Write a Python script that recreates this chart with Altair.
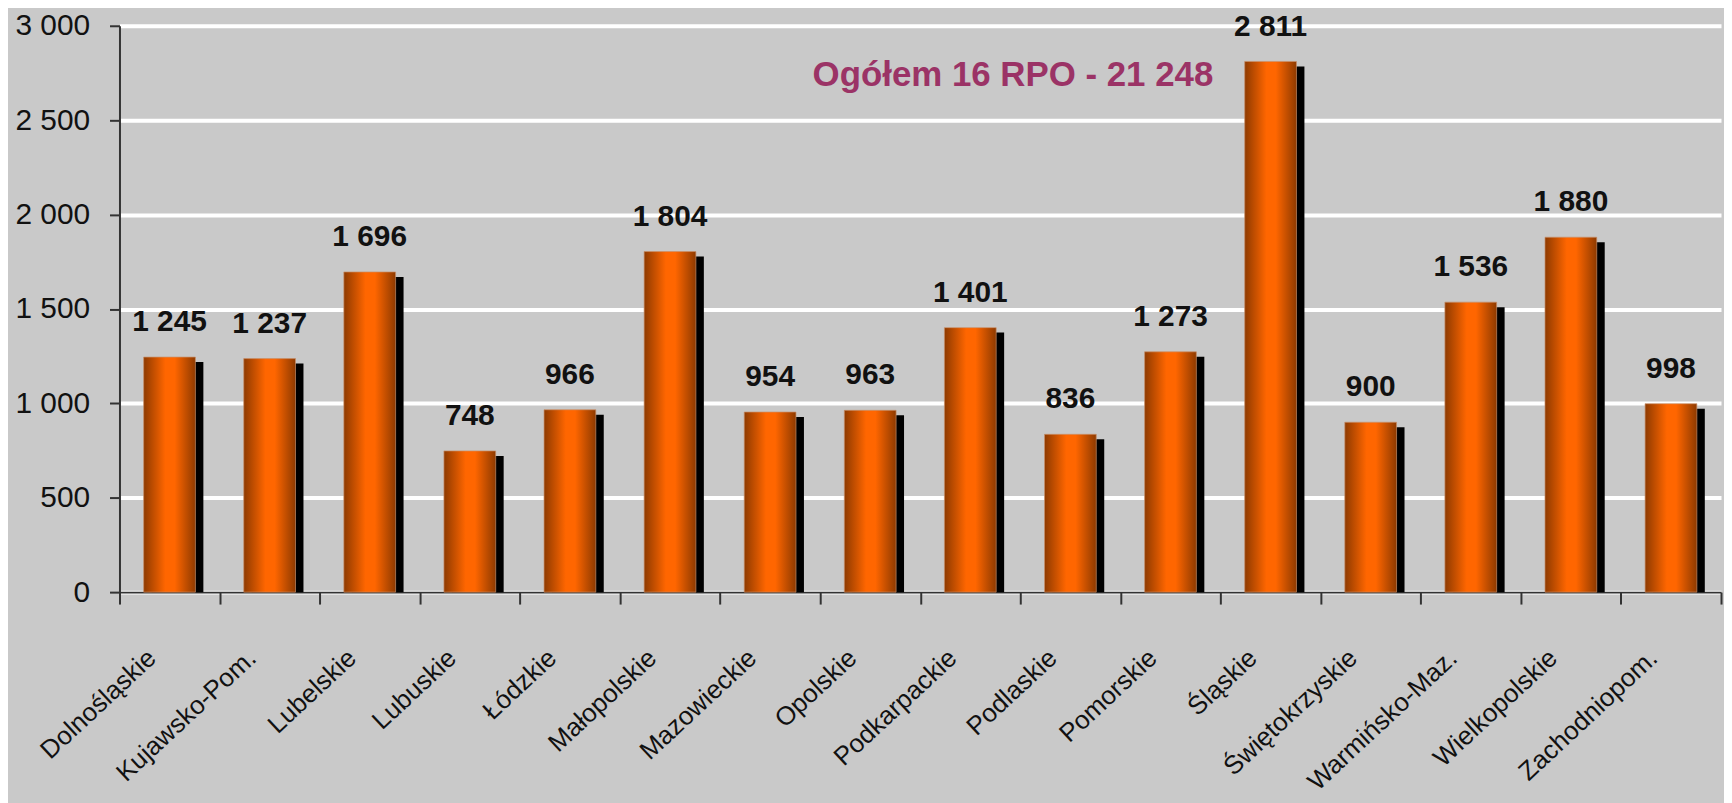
import altair as alt
import pandas as pd

regions = ["Dolnośląskie", "Kujawsko-Pom.", "Lubelskie", "Lubuskie", "Łódzkie",
           "Małopolskie", "Mazowieckie", "Opolskie", "Podkarpackie", "Podlaskie",
           "Pomorskie", "Śląskie", "Świętokrzyskie", "Warmińsko-Maz.",
           "Wielkopolskie", "Zachodniopom."]
values = [1245, 1237, 1696, 748, 966, 1804, 954, 963, 1401, 836,
          1273, 2811, 900, 1536, 1880, 998]
y_ticks = [0, 500, 1000, 1500, 2000, 2500, 3000]

def fmt(v):
    return f"{v:,}".replace(",", " ")

labels = [fmt(v) for v in values]
total = sum(values)
annotation_text = f"Ogółem 16 RPO - {fmt(total)}"

df = pd.DataFrame({"region": regions, "value": values, "label": labels})
ann = pd.DataFrame({"region": ["Pomorskie"], "value": [2680], "text": [annotation_text]})

FONT = "Liberation Sans"

x = alt.X(
    "region:N", sort=regions, title=None,
    scale=alt.Scale(paddingInner=0, paddingOuter=0),
    axis=alt.Axis(
        labelAngle=-43, labelAlign="right", labelBaseline="middle",
        labelFontSize=26, labelFont=FONT, labelColor="#111111",
        labelPadding=50, labelOffset=-18, labelLimit=0,
        tickBand="extent", tickSize=12, tickWidth=2, tickColor="#333333",
        domainColor="#333333", domainWidth=2, grid=False,
        labelOverlap=False,
    ),
)
y = alt.Y(
    "value:Q", title=None,
    scale=alt.Scale(domain=[0, 3000], nice=False),
    axis=alt.Axis(
        values=y_ticks, labelExpr="replace(format(datum.value, ','), ',', ' ')",
        labelFontSize=30, labelFont=FONT, labelColor="#111111", labelPadding=20,
        tickSize=10, tickWidth=2, tickColor="#333333",
        domainColor="#333333", domainWidth=2,
        grid=True, gridColor="white", gridWidth=4,
    ),
)

base = alt.Chart(df)

shadow = base.mark_bar(
    color="black", size=52, xOffset=8, yOffset=5, clip=True
).encode(x=x, y=y)

bars = base.mark_bar(
    size=52, stroke="#c8906a", strokeWidth=1, strokeOpacity=0.7,
    color=alt.Gradient(
        gradient="linear", x1=0, x2=1, y1=0, y2=0,
        stops=[
            alt.GradientStop(offset=0, color="#8e3a00"),
            alt.GradientStop(offset=0.42, color="#ff6600"),
            alt.GradientStop(offset=0.6, color="#ff6600"),
            alt.GradientStop(offset=1, color="#8e3a00"),
        ],
    ),
).encode(x=x, y=y)

text = base.mark_text(
    font=FONT, fontSize=30, fontWeight="bold", color="#111111",
    baseline="alphabetic", dy=-26,
).encode(x=x, y=y, text="label:N")

note = alt.Chart(ann).mark_text(
    font=FONT, fontSize=35, fontWeight="bold", color="#9b3366",
    align="right", baseline="alphabetic", dx=43,
).encode(
    x=alt.X("region:N", sort=regions),
    y=alt.Y("value:Q"),
    text="text:N",
)

chart = alt.layer(shadow, bars, text, note).properties(
    width=1609, height=569,
    autosize=alt.AutoSizeParams(type="none"),
    padding={"left": 112, "top": 16, "right": 3, "bottom": 210},
    background="#c9c9c9",
).configure_view(stroke=None)

chart.save("out.html", embed_options={"renderer": "svg", "actions": False})
